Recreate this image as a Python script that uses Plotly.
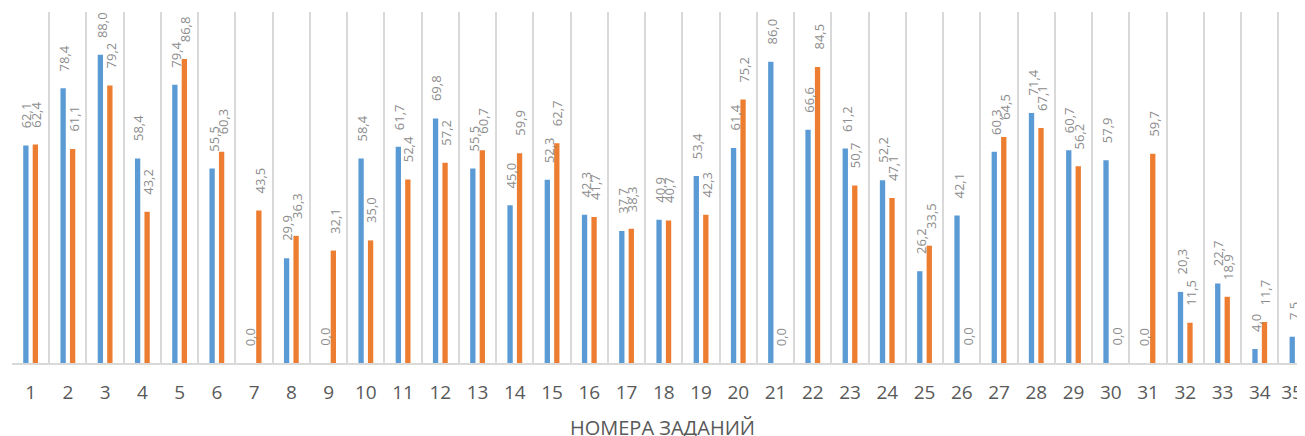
import plotly.graph_objects as go

categories = [str(i) for i in range(1, 36)]
series_blue = [62.1, 78.4, 88.0, 58.4, 79.4, 55.5, 0.0, 29.9, 0.0, 58.4,
               61.7, 69.8, 55.5, 45.0, 52.3, 42.3, 37.7, 40.9, 53.4, 61.4,
               86.0, 66.6, 61.2, 52.2, 26.2, 42.1, 60.3, 71.4, 60.7, 57.9,
               0.0, 20.3, 22.7, 4.0, 7.5]
series_orange = [62.4, 61.1, 79.2, 43.2, 86.8, 60.3, 43.5, 36.3, 32.1, 35.0,
                 52.4, 57.2, 60.7, 59.9, 62.7, 41.7, 38.3, 40.7, 42.3, 75.2,
                 0.0, 84.5, 50.7, 47.1, 33.5, 0.0, 64.5, 67.1, 56.2, 0.0,
                 59.7, 11.5, 18.9, 11.7, 0.0]
# the last label is nudged inward (as the original chart does at the edge)
tick_labels = categories[:-1] + [categories[-1] + "\u00a0\u00a0"]
x_title = "НОМЕРА ЗАДАНИЙ"

BLUE = "#5B9BD5"
ORANGE = "#ED7D31"
LABEL_COLOR = "#8C8C8C"
FONT = "Open Sans"


def fmt(v):
    return f"{v:.1f}".replace(".", ",")


fig = go.Figure()
fig.add_trace(go.Bar(x=categories, y=series_blue, marker=dict(color=BLUE, line=dict(width=0)),
                     hoverinfo="x+y"))
fig.add_trace(go.Bar(x=categories, y=series_orange, marker=dict(color=ORANGE, line=dict(width=0)),
                     hoverinfo="x+y"))

annotations = []
for series, shift in ((series_blue, -4.75), (series_orange, 4.75)):
    for idx, v in enumerate(series):
        # category axis: numeric x is the category index
        annotations.append(dict(
            x=idx, y=v, xref="x", yref="y", text=fmt(v), showarrow=False,
            textangle=-90, yanchor="bottom", xanchor="center",
            xshift=shift + 1, yshift=15,
            font=dict(family=FONT, size=13, color=LABEL_COLOR),
        ))

# the page body adds an 8px offset, so margins are reduced by that amount
fig.update_layout(
    width=1305, height=436,
    margin=dict(l=4, r=0, t=4, b=81, autoexpand=False),
    paper_bgcolor="white", plot_bgcolor="white",
    barmode="group", bargap=0.49, bargroupgap=0.44,
    showlegend=False,
    annotations=annotations,
    xaxis=dict(
        type="category", range=[-0.5, 34.43], automargin=False,
        tickmode="array", tickvals=categories, ticktext=tick_labels,
        tickson="boundaries", ticks="", ticklabelstandoff=11,
        showgrid=True, gridcolor="#D9D9D9", gridwidth=1.5,
        showline=True, linecolor="#D9D9D9", linewidth=1.5,
        tickfont=dict(family=FONT, size=19, color="#595959"),
        title=dict(text=x_title, font=dict(family=FONT, size=20, color="#595959"), standoff=17),
        zeroline=False,
    ),
    yaxis=dict(range=[0, 100.2], showgrid=False, showticklabels=False, automargin=False,
               zeroline=False, showline=False, ticks=""),
)

fig.write_html("out.html")
